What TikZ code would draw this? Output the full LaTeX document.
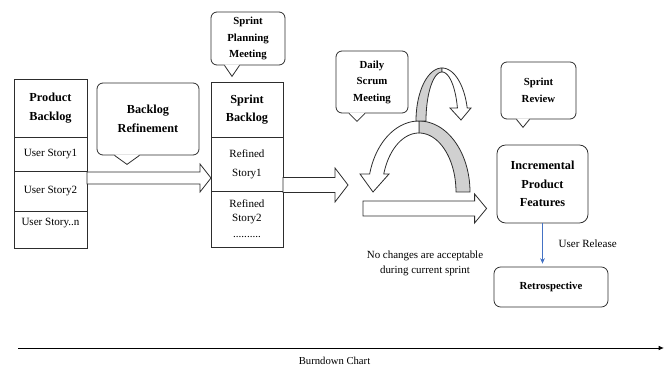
\documentclass[tikz,border=0pt]{standalone}
\usepackage{fontspec}
\setmainfont{Liberation Serif}
\usetikzlibrary{positioning,calc,arrows.meta}

\definecolor{edge}{RGB}{45,45,45}
\definecolor{archgray}{RGB}{208,208,208}
\definecolor{releaseblue}{RGB}{68,114,196}

\newcommand{\txtfont}{\fontsize{8.3}{14}\selectfont}
\newcommand{\hdfont}{\fontsize{9.2}{14}\selectfont\bfseries}
\newcommand{\bubfont}{\fontsize{8.1}{12.4}\selectfont\bfseries}

% hollow block arrow: start, tip (same height), shaft half width, head half width, head length
\newcommand{\blockarrow}[5]{%
	\draw[hollow] ($(#1)+(0,-#3)$) -- ($(#2)+(-#5,-#3)$) -- ($(#2)+(-#5,-#4)$) -- (#2)
		-- ($(#2)+(-#5,#4)$) -- ($(#2)+(-#5,#3)$) -- ($(#1)+(0,#3)$) -- cycle;}

% pointer under a speech bubble: node, offset of the tip, half width, depth
\newcommand{\callouttail}[4]{%
	\fill[white] ($(#1.south)+(#2-#3,-1)$) -- ($(#1.south)+(#2+#3,-1)$) -- ($(#1.south)+(#2,#4)$) -- cycle;
	\draw[tailline] ($(#1.south)+(#2-#3,0)$) -- ($(#1.south)+(#2,#4)$) -- ($(#1.south)+(#2+#3,0)$);}

\begin{document}
\begin{tikzpicture}[x=0.75pt, y=-0.75pt, line width=0.6pt,
		cell/.style={draw=edge, outer sep=0pt, inner sep=0pt, align=center, font=\txtfont},
		head/.style={cell, font=\hdfont},
		bubble/.style={draw=edge, rounded corners=4.5pt, inner sep=0pt, align=center, font=\bubfont},
		tailline/.style={draw=edge, line join=miter},
		result/.style={draw=edge, rounded corners=6.5pt, inner sep=0pt, align=center, font=\hdfont},
		hollow/.style={draw=edge, fill=white, line join=miter},
		release/.style={draw=releaseblue, -{Stealth[length=4pt,width=3.5pt]}}]
	\useasboundingbox (0,0) rectangle (669,366);

	% backlog tables
	\node[head, anchor=north west, minimum width=54.75pt, minimum height=43.5pt] (pb) at (14,79) {Product\\Backlog};
	\node[cell, below=0pt of pb, minimum width=54.75pt, minimum height=25.5pt] (pb1) {User Story1};
	\node[cell, below=0pt of pb1, minimum width=54.75pt, minimum height=30pt] (pb2) {User Story2};
	\node[cell, below=0pt of pb2, minimum width=54.75pt, minimum height=27.75pt, text depth=11pt] (pb3) {User Story..n};

	\node[head, anchor=north west, minimum width=54pt, minimum height=41.25pt] (sb) at (211,82) {Sprint\\Backlog};
	\node[cell, below=0pt of sb, minimum width=54pt, minimum height=40.5pt] (sb1) {Refined\\Story1};
	\node[cell, below=0pt of sb1, minimum width=54pt, minimum height=42pt, font=\fontsize{8.3}{10.5}\selectfont] (sb2) {Refined\\Story2\\[1.5pt]..........};

	% speech bubbles
	\node[bubble, minimum width=76.5pt, minimum height=54pt, font=\hdfont] (refine) at (148,119) {Backlog\\Refinement};
	\callouttail{refine}{-21}{12.5}{9}
	\node[bubble, minimum width=55.5pt, minimum height=39.75pt] (planning) at (248,38.5) {Sprint\\Planning\\Meeting};
	\callouttail{planning}{-16}{7.5}{11}
	\node[bubble, minimum width=54pt, minimum height=46.5pt] (daily) at (372,82) {Daily\\Scrum\\Meeting};
	\callouttail{daily}{-15}{8}{8}
	\node[bubble, minimum width=56.25pt, minimum height=42.75pt] (review) at (538.5,90.5) {Sprint\\Review};
	\callouttail{review}{-15.5}{6.5}{8}

	\node[result, minimum width=68.25pt, minimum height=58.5pt] (features) at (542.5,184) {Incremental\\Product\\Features};
	\node[result, rounded corners=5pt, minimum width=85.5pt, minimum height=30pt, font=\bubfont] (retro) at (551,287) {Retrospective};
	\draw[release] (features.south) -- node[right=8.5pt, font=\txtfont] {User Release} ($(features.south |- retro.north)+(0,-3)$);

	% flow arrows
	\coordinate (a1s) at ($(pb2.north east)+(0,7)$);
	\coordinate (a1e) at (sb1.west |- a1s);
	\blockarrow{a1s}{a1e}{6}{14}{11}
	\coordinate (a2s) at ($(sb1.south east)+(0,-6)$);
	\coordinate (a2e) at ($(a2s)+(65,0)$);
	\blockarrow{a2s}{a2e}{7.5}{17}{13}
	\coordinate (a3s) at (363,208.5);
	\coordinate (a3e) at ($(features.west |- a3s)+(-10,0)$);
	\blockarrow{a3s}{a3e}{7.5}{14.5}{12}

	% scrum loop
	\filldraw[draw=edge, fill=archgray] plot[domain=0:90, samples=30] ({419+51*cos(\x)},{192-71*sin(\x)})
		-- plot[domain=90:0, samples=30] ({419+37*cos(\x)},{192-59*sin(\x)}) -- cycle;
	\draw[hollow] plot[domain=90:165.3, samples=30] ({419+51*cos(\x)},{192-71*sin(\x)})
		-- (360,174) -- (373,192) -- (389,174)
		-- plot[domain=162.2:90, samples=30] ({419+37*cos(\x)},{192-59*sin(\x)}) -- cycle;
	\filldraw[draw=edge, fill=archgray] plot[domain=90:180, samples=30] ({442+26*cos(\x)},{121-53*sin(\x)})
		-- plot[domain=180:90, samples=30] ({442+16*cos(\x)},{121-49*sin(\x)}) -- cycle;
	\draw[hollow] plot[domain=90:14.2, samples=30] ({442+26*cos(\x)},{121-53*sin(\x)})
		-- (471,108) -- (461,120) -- (450,108)
		-- plot[domain=15.4:90, samples=30] ({442+16*cos(\x)},{121-49*sin(\x)}) -- cycle;

	\node[font=\fontsize{8.2}{11.25}\selectfont, align=center] (note) at (425,263.5) {No changes are acceptable\\during current sprint};

	% time line
	\coordinate (bd0) at (18,348);
	\coordinate (bd1) at (664,348);
	\draw[line width=0.7pt, -{Latex[length=4pt,width=3.5pt]}] (bd0) -- node[below=3pt, pos=0.49, font=\fontsize{8}{10}\selectfont] (bdlabel) {Burndown Chart} (bd1);
\end{tikzpicture}
\end{document}
